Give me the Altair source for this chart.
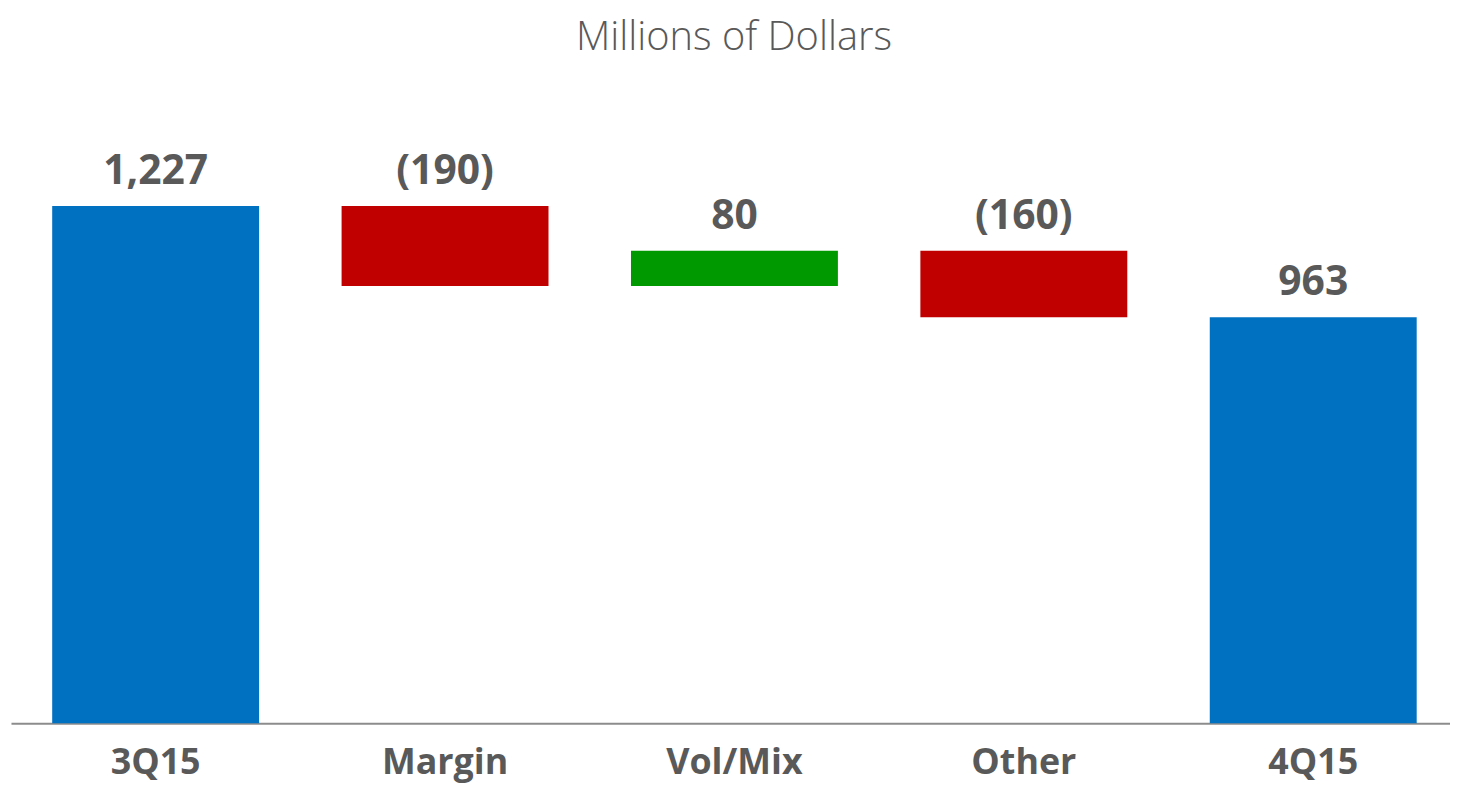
import altair as alt
import pandas as pd

title_text = "Millions of Dollars"
categories = ["3Q15", "Margin", "Vol/Mix", "Other", "4Q15"]
bar_start = [0, 1227, 1037, 1121, 0]
bar_end = [1227, 1037, 1121, 963, 963]
value_labels = ["1,227", "(190)", "80", "(160)", "963"]
kinds = ["total", "decrease", "increase", "decrease", "total"]

df = pd.DataFrame({
    "category": categories,
    "start": bar_start,
    "end": bar_end,
    "label": value_labels,
    "kind": kinds,
})
df["top"] = df[["start", "end"]].max(axis=1)

x_scale = alt.Scale(paddingInner=0.285, paddingOuter=0.12875, align=0.553)
x_enc = alt.X(
    "category:N",
    sort=categories,
    scale=x_scale,
    axis=alt.Axis(
        title=None,
        labelAngle=0,
        labelFont="Open Sans",
        labelFontSize=36,
        labelFontWeight="bold",
        labelColor="#595959",
        labelBaseline="alphabetic",
        labelPadding=51,
        ticks=False,
        domainColor="#8c8c8c",
        domainWidth=2,
    ),
)
y_scale = alt.Scale(domain=[0, 1569], nice=False, zero=True)

base = alt.Chart(df).encode(x=x_enc)

bars = base.mark_bar().encode(
    y=alt.Y("start:Q", scale=y_scale, axis=None),
    y2="end:Q",
    color=alt.Color(
        "kind:N",
        scale=alt.Scale(domain=["total", "decrease", "increase"],
                        range=["#0070C0", "#C00000", "#009900"]),
        legend=None,
    ),
)

labels = base.mark_text(
    font="Open Sans", fontSize=41, fontWeight="bold", color="#595959",
    baseline="alphabetic", dy=-22,
).encode(
    y=alt.Y("top:Q", scale=y_scale),
    text="label:N",
)

title = alt.Chart(pd.DataFrame({"t": [title_text]})).mark_text(
    font="Open Sans", fontSize=40, fontWeight=300, color="#595959",
    baseline="alphabetic", align="center",
).encode(
    x=alt.value(727),
    y=alt.value(-12),
    text="t:N",
)

chart = alt.layer(bars, labels, title).properties(
    width=1447,
    height=665,
    background="white",
    autosize=alt.AutoSizeParams(type="none"),
    padding={"left": 3, "right": 0, "top": 52, "bottom": 60},
).configure_view(strokeWidth=0, stroke="transparent")

chart.save("out.html", embed_options={"renderer": "svg", "actions": False})
